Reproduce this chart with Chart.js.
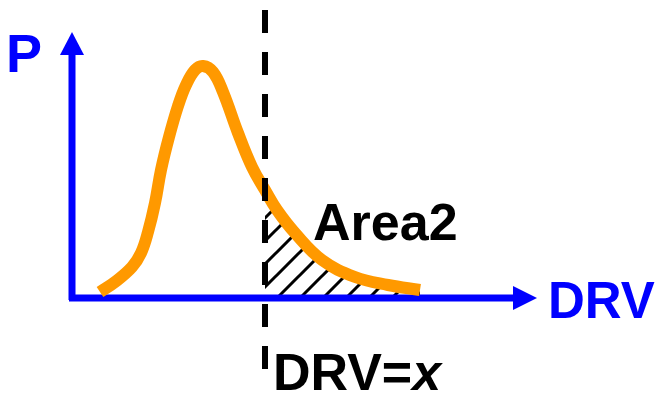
<!DOCTYPE html>
<html>
<head>
<meta charset="utf-8">
<script src="https://cdn.jsdelivr.net/npm/chart.js@4"></script>
<style>
  html, body { margin: 0; padding: 0; background: #fff; }
  canvas { display: block; }
</style>
</head>
<body>
<canvas id="drvChart" width="657" height="393"></canvas>
<script>
// Distribution curve (P against DRV)
const curveX = [28, 43, 60, 69, 76, 83, 89, 97, 106, 114, 123, 131, 141, 151, 166, 180, 193, 205, 223, 250, 283, 316, 348];
const curveY = [6, 16, 31, 45, 66, 95, 128, 161, 192, 213, 228, 232, 226, 206, 165, 131, 108, 88, 65, 38, 21, 13, 8];

// Threshold DRV = x
const cutX = 193;
const cutRange = [288, -71];

// Axis extents
const xAxisRange = [-3, 441, 465];   // start, arrow base, arrow tip
const yAxisRange = [-2, 243, 266];

const labels = {
    yAxis: "P",
    xAxis: "DRV",
    area: "Area2",
    cut: "DRV=",
    cutVar: "x",
};

const colors = {
    curve: "#FF9900",
    axis: "#0000FF",
    ink: "#000000",
};

const curvePoints = curveX.map((x, i) => ({ x: x, y: curveY[i] }));
const tailPoints = curvePoints.filter((p) => p.x >= cutX);

function hatchPattern() {
    const size = 23;
    const tile = document.createElement("canvas");
    tile.width = size;
    tile.height = size;
    const c = tile.getContext("2d");
    c.strokeStyle = colors.ink;
    c.lineWidth = 3;
    c.beginPath();
    c.moveTo(-2, size + 2);
    c.lineTo(size + 2, -2);
    c.moveTo(-2, 2);
    c.lineTo(2, -2);
    c.moveTo(size - 2, size + 2);
    c.lineTo(size + 2, size - 2);
    c.stroke();
    return c.createPattern(tile, "repeat");
}

// arrowheads and text labels
const annotations = {
    id: "annotations",
    afterDatasetsDraw(chart) {
        const ctx = chart.ctx;
        const xs = chart.scales.x;
        const ys = chart.scales.y;
        const x0 = xs.getPixelForValue(0);
        const y0 = ys.getPixelForValue(0);

        ctx.save();
        ctx.fillStyle = colors.axis;
        // x arrow
        const xb = xs.getPixelForValue(xAxisRange[1]);
        const xt = xs.getPixelForValue(xAxisRange[2]);
        ctx.beginPath();
        ctx.moveTo(xt, y0);
        ctx.lineTo(xb, y0 - 12);
        ctx.lineTo(xb, y0 + 12);
        ctx.closePath();
        ctx.fill();
        // y arrow
        const yb = ys.getPixelForValue(yAxisRange[1]);
        const yt = ys.getPixelForValue(yAxisRange[2]);
        ctx.beginPath();
        ctx.moveTo(x0, yt);
        ctx.lineTo(x0 - 12, yb);
        ctx.lineTo(x0 + 12, yb);
        ctx.closePath();
        ctx.fill();

        ctx.textBaseline = "alphabetic";
        ctx.textAlign = "left";
        ctx.font = "bold 54px Arial, 'Liberation Sans', sans-serif";
        ctx.fillText(labels.yAxis, x0 - 66, yt + 40);
        ctx.font = "bold 51px Arial, 'Liberation Sans', sans-serif";
        ctx.fillText(labels.xAxis, xt + 11, y0 + 20);

        const cx = xs.getPixelForValue(cutX);
        ctx.fillStyle = colors.ink;
        ctx.font = "bold 52px Arial, 'Liberation Sans', sans-serif";
        ctx.fillText(labels.area, cx + 48, y0 - 58);
        ctx.fillText(labels.cut, cx + 8, y0 + 92);
        const w = ctx.measureText(labels.cut).width;
        ctx.font = "italic bold 52px Arial, 'Liberation Sans', sans-serif";
        ctx.fillText(labels.cutVar, cx + 8 + w, y0 + 92);
        ctx.restore();
    },
};

const ctx = document.getElementById("drvChart").getContext("2d");
new Chart(ctx, {
    type: "scatter",
    data: {
        datasets: [
            {
                // dashed threshold
                data: [{ x: cutX, y: cutRange[0] }, { x: cutX, y: cutRange[1] }],
                showLine: true,
                borderColor: colors.ink,
                borderWidth: 6,
                borderDash: [23, 19],
                borderCapStyle: "butt",
                pointRadius: 0,
                order: 0,
            },
            {
                data: curvePoints,
                showLine: true,
                borderColor: colors.curve,
                borderWidth: 12,
                borderCapStyle: "butt",
                borderJoinStyle: "round",
                tension: 0.4,
                pointRadius: 0,
                order: 1,
            },
            {
                // x axis
                data: [{ x: xAxisRange[0], y: 0 }, { x: xAxisRange[1], y: 0 }],
                showLine: true,
                borderColor: colors.axis,
                borderWidth: 7,
                pointRadius: 0,
                order: 2,
            },
            {
                // y axis
                data: [{ x: 0, y: yAxisRange[0] }, { x: 0, y: yAxisRange[1] }],
                showLine: true,
                borderColor: colors.axis,
                borderWidth: 7,
                pointRadius: 0,
                order: 2,
            },
            {
                // Area2 hatch
                data: tailPoints,
                showLine: true,
                borderWidth: 0,
                borderColor: "rgba(0,0,0,0)",
                backgroundColor: hatchPattern(),
                fill: "origin",
                tension: 0.4,
                pointRadius: 0,
                order: 3,
            },
        ],
    },
    options: {
        responsive: false,
        animation: false,
        devicePixelRatio: 1,
        layout: { padding: 0 },
        plugins: {
            legend: { display: false },
            tooltip: { enabled: false },
        },
        scales: {
            x: { type: "linear", display: false, min: -72, max: 585 },
            y: { type: "linear", display: false, min: -95, max: 298 },
        },
    },
    plugins: [annotations],
});
</script>
</body>
</html>
